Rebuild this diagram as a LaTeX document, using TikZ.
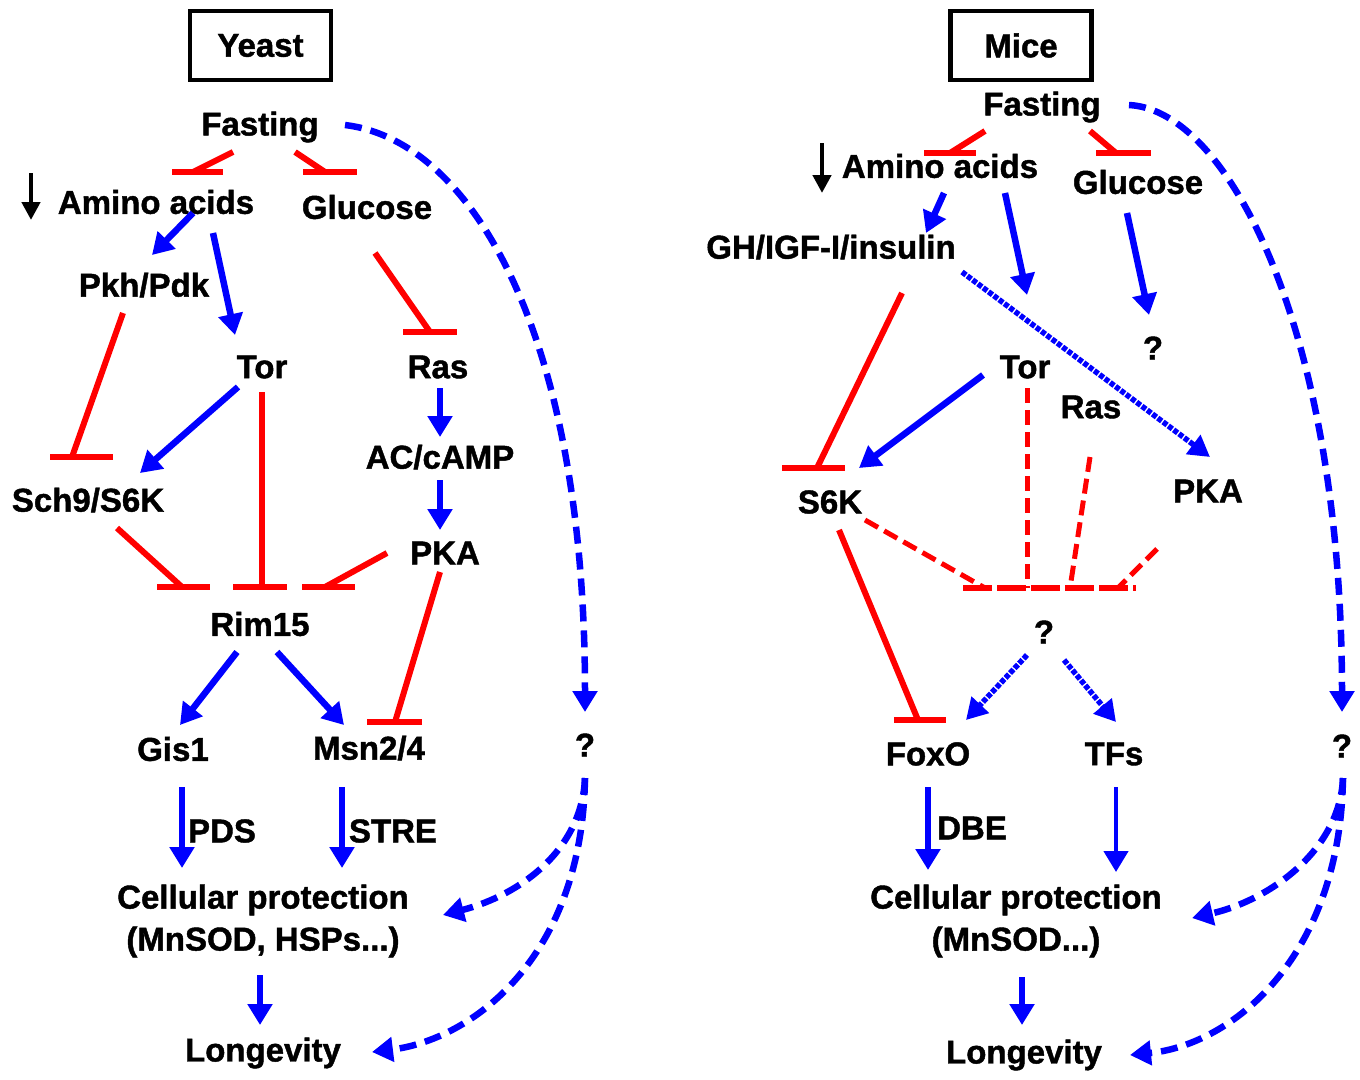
\documentclass[tikz,border=0pt]{standalone}
\usepackage{fontspec}
\setmainfont{Liberation Sans}[BoldFeatures={FakeBold=1.3}]
\usetikzlibrary{arrows.meta,calc}
\begin{document}
\begin{tikzpicture}[x=1pt,y=-1pt,
  lbl/.style={font=\fontsize{33}{42}\selectfont\bfseries, inner sep=0pt},
  title/.style={lbl, draw=black, line width=4.5pt, minimum width=141pt, minimum height=69pt},
  act/.style={draw=blue, line width=6.5pt, -{Triangle[length=21pt,width=24pt]}},
  actdot/.style={draw=blue, line width=5.5pt, dash pattern=on 5pt off 1.6pt, -{Triangle[length=21pt,width=23pt]}},
  actdash/.style={draw=blue, line width=6.5pt, dash pattern=on 17pt off 9pt, -{Triangle[length=21pt,width=24pt]}},
  inh/.style={draw=red, line width=6pt},
  inhdash/.style={draw=red, line width=5pt, dash pattern=on 15pt off 7pt},
  inhbardash/.style={draw=red, line width=5.5pt, dash pattern=on 29pt off 5pt},
  down/.style={draw=black, line width=4.5pt, -{Triangle[length=18pt,width=18pt]}}
]
\useasboundingbox (0,0) rectangle (1360,1079);

%================ YEAST =================
\node[title] (yTitle) at (260.5,45.5) {Yeast};
\node[lbl] (yFast) at (260,127) {Fasting};
\node[lbl] (yAA) at (156,202) {Amino acids};
\node[lbl] (yGlu) at (367,207) {Glucose};
\node[lbl] (yPkh) at (144,285) {Pkh/Pdk};
\node[lbl] (yTor) at (262,367) {Tor};
\node[lbl] (yRas) at (438,367) {Ras};
\node[lbl] (yAC) at (440,457) {AC/cAMP};
\node[lbl] (yPKA) at (445,553) {PKA};
\node[lbl] (ySch) at (88,500) {Sch9/S6K};
\node[lbl] (yRim) at (260,624) {Rim15};
\node[lbl] (yGis) at (173,749) {Gis1};
\node[lbl] (yMsn) at (369,748) {Msn2/4};
\node[lbl] (yQ) at (585,745) {?};
\node[lbl] (yPDS) at (222,831) {PDS};
\node[lbl] (ySTRE) at (393,831) {STRE};
\node[lbl, align=center] (yCell) at (263,921) {Cellular protection\\(MnSOD, HSPs...)};
\node[lbl] (yLong) at (263,1053) {Longevity};

% down arrow by amino acids
\draw[down] ($(yAA)+(-125,-29)$) -- ($(yAA)+(-125,18)$);

% Fasting -| Amino acids / Glucose
\draw[inh] ($(yFast)+(-27,25)$) -- ($(yAA)+(37,-30)$);
\draw[inh] ($(yAA)+(16,-30)$) -- ($(yAA)+(67,-30)$);
\draw[inh] ($(yFast)+(35,25)$) -- ($(yGlu)+(-42,-35)$);
\draw[inh] ($(yGlu)+(-64,-35)$) -- ($(yGlu)+(-10,-35)$);

% Amino acids -> Pkh/Pdk, Tor
\draw[act] ($(yAA)+(37,11)$) -- ($(yPkh)+(8,-30)$);
\draw[act] ($(yAA)+(57,31)$) -- ($(yTor)+(-27,-32)$);

% Glucose -| Ras
\draw[inh] ($(yGlu)+(8,46)$) -- ($(yRas)+(-8,-35)$);
\draw[inh] ($(yRas)+(-35,-35)$) -- ($(yRas)+(19,-35)$);

% Pkh/Pdk -| Sch9
\draw[inh] ($(yPkh)+(-21,28)$) -- ($(ySch)+(-16,-43)$);
\draw[inh] ($(ySch)+(-38,-43)$) -- ($(ySch)+(25,-43)$);

% Tor -> Sch9
\draw[act] ($(yTor)+(-24,20)$) -- ($(ySch)+(52,-27)$);

% Tor -| Rim15
\draw[inh] ($(yTor)+(0,25)$) -- ($(yRim)+(2,-37)$);
\draw[inh] ($(yRim)+(-27,-37)$) -- ($(yRim)+(27,-37)$);

% Sch9 -| Rim15
\draw[inh] ($(ySch)+(29,28)$) -- ($(yRim)+(-78,-37)$);
\draw[inh] ($(yRim)+(-103,-37)$) -- ($(yRim)+(-50,-37)$);

% PKA -| Rim15
\draw[inh] ($(yPKA)+(-58,0)$) -- ($(yRim)+(65,-37)$);
\draw[inh] ($(yRim)+(42,-37)$) -- ($(yRim)+(95,-37)$);

% Ras -> AC -> PKA
\draw[act] ($(yRas)+(2,21)$) -- ($(yAC)+(0,-20)$);
\draw[act] ($(yAC)+(0,23)$) -- ($(yPKA)+(-5,-23)$);

% PKA -| Msn2/4
\draw[inh] ($(yPKA)+(-5,19)$) -- ($(yMsn)+(26,-26)$);
\draw[inh] ($(yMsn)+(-2,-26)$) -- ($(yMsn)+(53,-26)$);

% Rim15 -> Gis1, Msn2/4
\draw[act] ($(yRim)+(-23,28)$) -- ($(yGis)+(7,-24)$);
\draw[act] ($(yRim)+(17,28)$) -- ($(yMsn)+(-25,-23)$);

% Gis1, Msn2/4 -> cellular protection
\draw[act] ($(yGis)+(9,38)$) -- ($(yCell)+(-81,-53)$);
\draw[act] ($(yMsn)+(-27,39)$) -- ($(yCell)+(79,-53)$);

% cellular protection -> longevity
\draw[act] ($(yCell)+(-3,54)$) -- ($(yLong)+(-3,-28)$);

% dashed paths
\draw[actdash] ($(yFast)+(85,-2)$) .. controls +(125,15) and +(0,-382) .. ($(yQ)+(0,-33)$);
\draw[actdash] ($(yQ)+(0,33)$) .. controls +(-3,72) and +(77,-20) .. ($(yCell)+(180,-6)$);
\draw[actdash] ($(yQ)+(0,33)$) .. controls +(-3,182) and +(98,-12) .. ($(yLong)+(109,-1)$);

%================ MICE =================
\node[title] (mTitle) at (1021,45.5) {Mice};
\node[lbl] (mFast) at (1042,107) {Fasting};
\node[lbl] (mAA) at (940,166) {Amino acids};
\node[lbl] (mGlu) at (1138,182) {Glucose};
\node[lbl] (mGH) at (831,247) {GH/IGF-I/insulin};
\node[lbl] (mQg) at (1153,348) {?};
\node[lbl] (mTor) at (1025,367) {Tor};
\node[lbl] (mRas) at (1091,407) {Ras};
\node[lbl] (mS6K) at (830,502) {S6K};
\node[lbl] (mPKA) at (1208,491) {PKA};
\node[lbl] (mQ) at (1044,632) {?};
\node[lbl] (mFox) at (928,754) {FoxO};
\node[lbl] (mTFs) at (1114,754) {TFs};
\node[lbl] (mQr) at (1342,746) {?};
\node[lbl] (mDBE) at (972,828) {DBE};
\node[lbl, align=center] (mCell) at (1016,921) {Cellular protection\\(MnSOD...)};
\node[lbl] (mLong) at (1024,1055) {Longevity};

\draw[down] ($(mAA)+(-118,-23)$) -- ($(mAA)+(-118,27)$);

% Fasting -| AA, Glucose
\draw[inh] ($(mFast)+(-57,24)$) -- ($(mAA)+(10,-13)$);
\draw[inh] ($(mAA)+(-16,-13)$) -- ($(mAA)+(36,-13)$);
\draw[inh] ($(mFast)+(48,24)$) -- ($(mGlu)+(-22,-29)$);
\draw[inh] ($(mGlu)+(-42,-29)$) -- ($(mGlu)+(13,-29)$);

% AA -> GH, Tor ; Glucose -> ?
\draw[act] ($(mAA)+(4,27)$) -- ($(mGH)+(95,-14)$);
\draw[act] ($(mAA)+(65,27)$) -- ($(mTor)+(2,-72)$);
\draw[act] ($(mGlu)+(-11,31)$) -- ($(mQg)+(-4,-33)$);

% GH -| S6K
\draw[inh] ($(mGH)+(71,46)$) -- ($(mS6K)+(-13,-34)$);
\draw[inh] ($(mS6K)+(-48,-34)$) -- ($(mS6K)+(15,-34)$);

% GH -> PKA (dotted)
\draw[actdot] ($(mGH)+(131,25)$) -- ($(mPKA)+(2,-34)$);

% Tor -> S6K
\draw[act] ($(mTor)+(-42,8)$) -- ($(mS6K)+(29,-34)$);

% dashed inhibitions onto ?
\draw[inhdash] ($(mTor)+(2,21)$) -- ($(mQ)+(-17,-44)$);
\draw[inhdash] ($(mRas)+(-1,50)$) -- ($(mQ)+(26,-44)$);
\draw[inhdash] ($(mPKA)+(-51,58)$) -- ($(mQ)+(74,-44)$);
\draw[inhdash] ($(mS6K)+(35,18)$) -- ($(mQ)+(-59,-44)$);
\draw[inhbardash] ($(mQ)+(-81,-44)$) -- ($(mQ)+(92,-44)$);

% S6K -| FoxO
\draw[inh] ($(mS6K)+(9,28)$) -- ($(mFox)+(-10,-34)$);
\draw[inh] ($(mFox)+(-34,-34)$) -- ($(mFox)+(18,-34)$);

% ? -> FoxO, TFs
\draw[actdot] ($(mQ)+(-17,23)$) -- ($(mFox)+(38,-34)$);
\draw[actdot] ($(mQ)+(20,28)$) -- ($(mTFs)+(2,-32)$);

% FoxO, TFs -> cellular protection
\draw[act] ($(mFox)+(0,33)$) -- ($(mCell)+(-88,-51)$);
\draw[act, line width=4.5pt] ($(mTFs)+(2,33)$) -- ($(mCell)+(100,-49)$);
\draw[act] ($(mCell)+(6,56)$) -- ($(mLong)+(-2,-30)$);

% dashed paths
\draw[actdash] ($(mFast)+(87,-2)$) .. controls +(100,5) and +(0,-380) .. ($(mQr)+(0,-34)$);
\draw[actdash] ($(mQr)+(1,32)$) .. controls +(-3,72) and +(78,-18) .. ($(mCell)+(176,-3)$);
\draw[actdash] ($(mQr)+(1,32)$) .. controls +(-3,182) and +(100,-10) .. ($(mLong)+(106,0)$);
\end{tikzpicture}
\end{document}
